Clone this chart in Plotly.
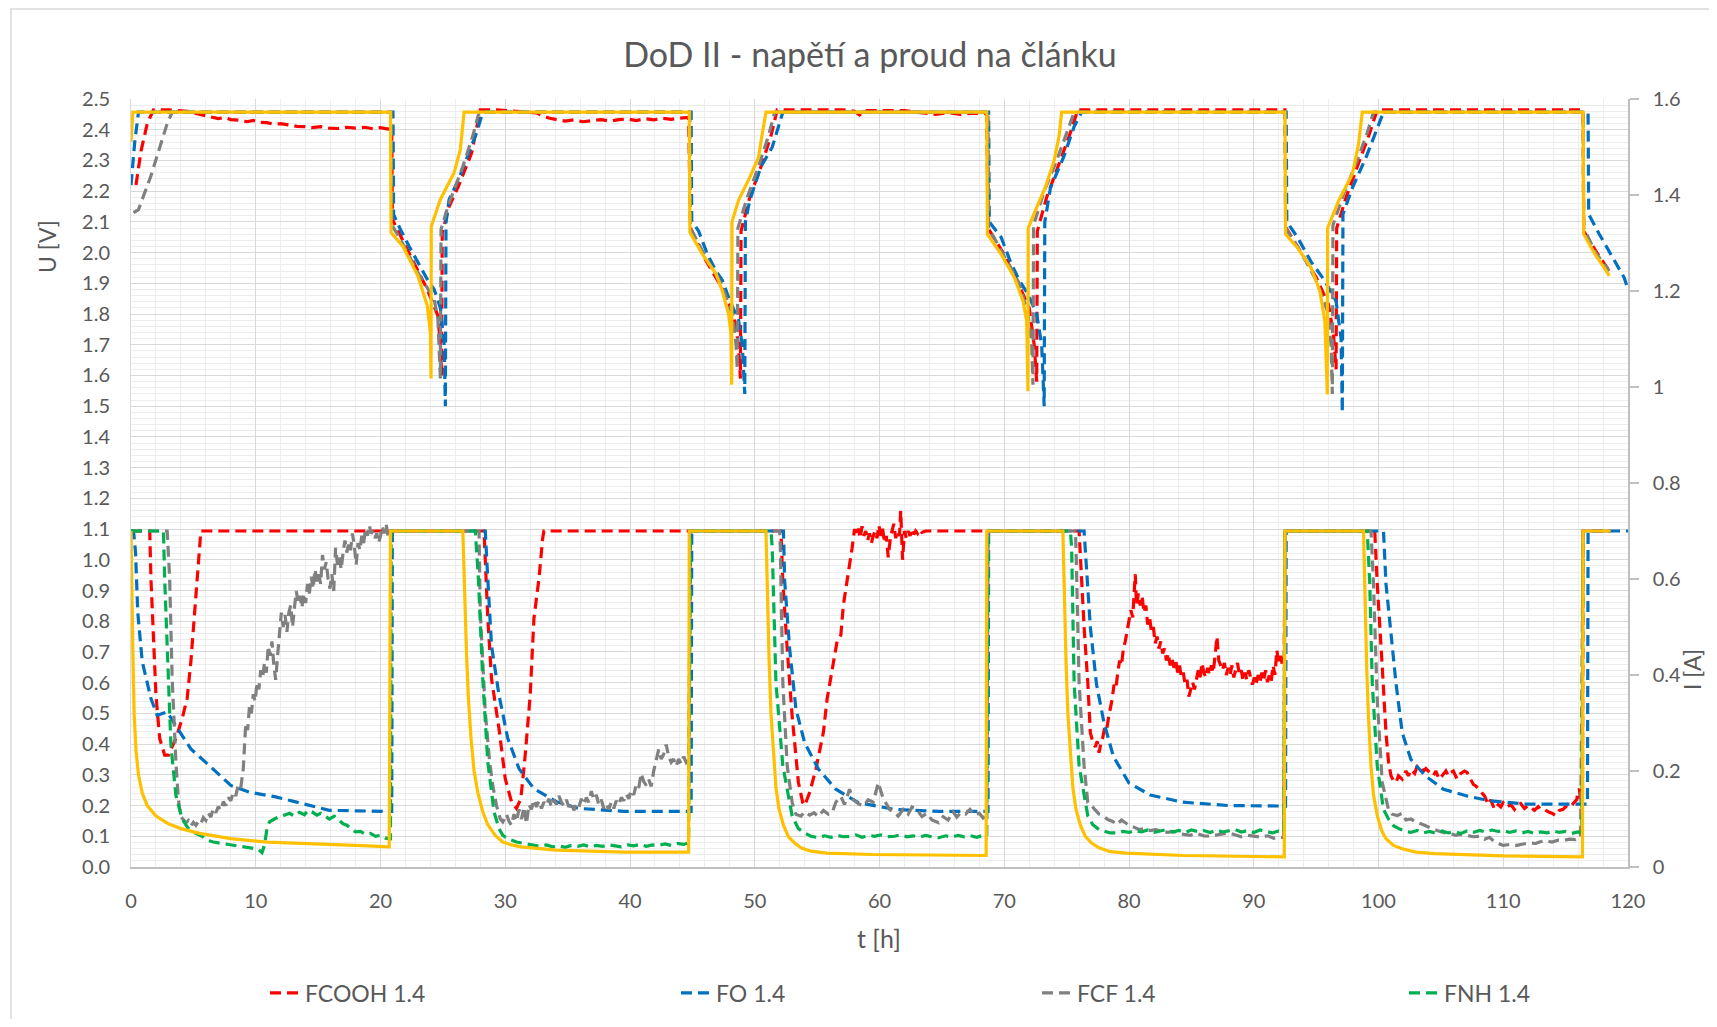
import plotly.graph_objects as go

# ---------------- data (t [h], value) ----------------
TIME_TICKS = list(range(0, 121, 10))
U_TICKS = [round(0.1 * i, 1) for i in range(26)]
I_TICKS = [0, 0.2, 0.4, 0.6, 0.8, 1.0, 1.2, 1.4, 1.6]

SERIES_NAMES = ["FCOOH 1.4", "FO 1.4", "FCF 1.4", "FNH 1.4"]

# reference cell (yellow, not in legend) – voltage [V]
YLW_U = [(0, 2.36), (0.15, 2.457), (20.8, 2.457), (20.85, 2.065), (21.8, 2.02), (23.0, 1.924), (23.75, 1.827),
         (24.0, 1.74), (24.05, 1.59), (24.07, 2.086), (24.8, 2.173), (25.9, 2.26), (26.4, 2.335), (26.7, 2.457),
         (44.75, 2.457), (44.8, 2.066), (45.8, 1.995), (46.9, 1.93), (47.4, 1.875), (47.9, 1.80), (48.1, 1.734),
         (48.15, 1.57), (48.17, 2.10), (48.7, 2.17), (49.6, 2.245), (50.3, 2.31), (50.6, 2.387), (50.9, 2.457),
         (68.6, 2.457), (68.65, 2.06), (69.75, 1.995), (70.8, 1.92), (71.5, 1.843), (71.8, 1.777), (71.9, 1.549),
         (71.92, 2.08), (72.6, 2.147), (73.3, 2.213), (74.0, 2.30), (74.4, 2.38), (74.6, 2.457),
         (92.5, 2.457), (92.55, 2.06), (93.5, 2.016), (94.6, 1.95), (95.3, 1.875), (95.7, 1.777), (95.9, 1.538),
         (95.92, 2.08), (96.8, 2.168), (97.9, 2.255), (98.4, 2.353), (98.7, 2.457),
         (116.4, 2.457), (116.45, 2.06), (117.35, 1.995), (118.1, 1.95), (118.5, 1.924)]
# reference cell – current [A]
YLW_I = [(0, 0.7), (0.05, 0.64), (0.15, 0.448), (0.25, 0.32), (0.4, 0.243), (0.6, 0.192), (0.9, 0.154),
         (1.3, 0.128), (2.0, 0.106), (3.0, 0.09), (4.0, 0.08), (5.5, 0.070), (8.0, 0.059), (10.9, 0.052),
         (14.5, 0.049), (18.0, 0.045), (20.7, 0.042), (20.8, 0.7),
         (26.6, 0.7), (26.75, 0.56), (26.9, 0.44), (27.05, 0.35), (27.25, 0.27), (27.5, 0.2), (27.8, 0.155),
         (28.2, 0.115), (28.6, 0.088), (29.2, 0.066), (29.8, 0.052), (30.5, 0.046), (31.25, 0.042), (34.1, 0.035),
         (39.5, 0.031), (44.7, 0.031), (44.75, 0.7),
         (50.9, 0.7), (51.0, 0.56), (51.15, 0.43), (51.3, 0.32), (51.5, 0.23), (51.7, 0.165), (51.95, 0.12),
         (52.3, 0.087), (52.7, 0.063), (53.2, 0.05), (53.7, 0.04), (54.5, 0.033), (55.8, 0.029), (59.4, 0.026),
         (68.55, 0.024), (68.6, 0.7),
         (74.7, 0.7), (74.8, 0.56), (74.95, 0.43), (75.1, 0.32), (75.3, 0.23), (75.5, 0.165), (75.75, 0.12),
         (76.1, 0.087), (76.5, 0.064), (77.0, 0.05), (77.6, 0.04), (78.5, 0.032), (79.75, 0.029), (84.4, 0.024),
         (92.45, 0.021), (92.5, 0.7),
         (98.8, 0.7), (98.9, 0.56), (99.05, 0.42), (99.2, 0.31), (99.4, 0.21), (99.6, 0.15), (99.9, 0.107),
         (100.25, 0.076), (100.6, 0.059), (101.2, 0.045), (101.9, 0.038), (103.0, 0.031), (104.5, 0.028),
         (110.0, 0.023), (116.35, 0.021), (116.4, 0.7), (118.6, 0.7)]

# FCOOH 1.4 (red)
FCOOH_U = [(0.4, 2.22), (0.8, 2.33), (1.3, 2.42), (1.8, 2.465), (3.0, 2.465), (4.5, 2.46), (5.4, 2.451),
           (6.0, 2.445), (6.5, 2.44), (7.0, 2.436), (7.5, 2.44), (8.0, 2.433), (8.75, 2.431), (9.3, 2.426),
           (9.8, 2.43), (10.4, 2.424), (10.9, 2.423), (11.5, 2.417), (12.0, 2.42), (12.7, 2.415), (13.3, 2.411),
           (13.9, 2.41), (14.5, 2.407), (15.2, 2.41), (15.9, 2.405), (16.6, 2.404), (17.3, 2.408), (18.0, 2.405),
           (18.75, 2.408), (19.4, 2.403), (20.0, 2.407), (20.6, 2.402), (20.9, 2.41),
           (20.95, 2.108), (22.3, 2.0), (23.75, 1.88), (24.6, 1.795), (24.8, 1.70), (24.9, 1.60),
           (24.95, 2.065), (25.5, 2.15), (26.25, 2.216), (27.3, 2.324), (28.0, 2.465), (29.3, 2.465),
           (31.0, 2.46), (32.5, 2.455), (33.0, 2.445), (33.5, 2.438), (34.2, 2.432), (34.8, 2.428), (35.5, 2.432),
           (36.2, 2.426), (37.0, 2.43), (37.7, 2.433), (38.4, 2.428), (39.1, 2.433), (39.8, 2.435), (40.5, 2.43),
           (41.2, 2.436), (41.9, 2.432), (42.6, 2.437), (43.3, 2.434), (44.0, 2.438), (44.7, 2.44),
           (44.85, 2.08), (46.0, 1.98), (47.3, 1.89), (48.3, 1.80), (48.7, 1.70), (48.85, 1.59),
           (48.9, 2.07), (49.6, 2.18), (50.5, 2.28), (51.3, 2.38), (51.8, 2.465), (57.0, 2.465), (58.0, 2.46),
           (58.4, 2.448), (58.8, 2.462), (62.0, 2.462), (63.5, 2.455), (64.5, 2.45), (65.5, 2.456), (66.5, 2.45),
           (67.5, 2.454), (68.6, 2.452),
           (68.7, 2.08), (69.9, 2.0), (71.0, 1.91), (72.0, 1.82), (72.4, 1.70), (72.6, 1.58),
           (72.65, 2.07), (73.4, 2.18), (74.4, 2.29), (75.3, 2.39), (75.9, 2.465), (92.5, 2.465),
           (92.6, 2.08), (93.8, 2.0), (95.0, 1.92), (96.0, 1.83), (96.4, 1.73), (96.6, 1.62),
           (96.65, 2.08), (97.4, 2.18), (98.4, 2.29), (99.3, 2.39), (99.9, 2.465), (116.4, 2.465),
           (116.45, 2.07), (117.5, 2.0), (118.5, 1.94)]
FCOOH_I = [(0, 0.7), (1.5, 0.7), (1.6, 0.60), (1.8, 0.461), (2.0, 0.358), (2.3, 0.268), (2.7, 0.233), (3.0, 0.233),
           (3.3, 0.25), (3.6, 0.268), (4.1, 0.309), (4.5, 0.351), (4.8, 0.428), (5.2, 0.566), (5.5, 0.685), (5.6, 0.7),
           (28.3, 0.7), (28.6, 0.518), (28.9, 0.392), (29.5, 0.288), (30.0, 0.184), (30.5, 0.136), (30.9, 0.122),
           (31.25, 0.142), (31.6, 0.233), (32.0, 0.358), (32.3, 0.518), (32.7, 0.60), (33.0, 0.685), (33.1, 0.7),
           (52.1, 0.7), (52.25, 0.595), (52.6, 0.454), (53.0, 0.314), (53.5, 0.176), (53.85, 0.134), (54.0, 0.128),
           (54.4, 0.155), (54.9, 0.204), (55.5, 0.280), (55.8, 0.350), (56.1, 0.40), (56.4, 0.440), (56.6, 0.47),
           (56.9, 0.483), (57.1, 0.545), (57.4, 0.594), (57.8, 0.664),
           (58.0, 0.704), (58.15, 0.69), (58.3, 0.705), (58.45, 0.685), (58.6, 0.71), (58.75, 0.69), (58.9, 0.70),
           (59.05, 0.68), (59.2, 0.695), (59.35, 0.675), (59.5, 0.69), (59.65, 0.70), (59.8, 0.685), (59.95, 0.712),
           (60.1, 0.69), (60.25, 0.705), (60.4, 0.675), (60.55, 0.69), (60.7, 0.645), (60.85, 0.68), (61.0, 0.70),
           (61.15, 0.715), (61.3, 0.685), (61.45, 0.70), (61.6, 0.69), (61.7, 0.742), (61.85, 0.64), (62.0, 0.70),
           (62.15, 0.685), (62.3, 0.70), (62.45, 0.69), (62.6, 0.705), (62.75, 0.693), (62.9, 0.70), (63.05, 0.695),
           (63.2, 0.703), (63.4, 0.697), (63.7, 0.70),
           (76.0, 0.7), (76.2, 0.595), (76.4, 0.5), (76.7, 0.383), (76.9, 0.28), (77.1, 0.26), (77.3, 0.25),
           (77.45, 0.262), (77.6, 0.238), (77.75, 0.258), (77.9, 0.27), (78.05, 0.29), (78.2, 0.285), (78.35, 0.31),
           (78.5, 0.33), (78.65, 0.35), (78.8, 0.38), (78.95, 0.372), (79.1, 0.405), (79.25, 0.43), (79.4, 0.42),
           (79.55, 0.455), (79.7, 0.47), (79.85, 0.49), (80.0, 0.515), (80.15, 0.535), (80.3, 0.52), (80.4, 0.576),
           (80.5, 0.61), (80.6, 0.545), (80.75, 0.57), (80.9, 0.545), (81.05, 0.565), (81.2, 0.53), (81.35, 0.545),
           (81.5, 0.505), (81.65, 0.52), (81.8, 0.49), (81.95, 0.5), (82.1, 0.466), (82.25, 0.48), (82.4, 0.455),
           (82.55, 0.47), (82.7, 0.445), (82.85, 0.455), (83.0, 0.43), (83.15, 0.445), (83.3, 0.42), (83.45, 0.435),
           (83.6, 0.415), (83.75, 0.43), (83.9, 0.405), (84.05, 0.42), (84.2, 0.395), (84.35, 0.405), (84.5, 0.38),
           (84.65, 0.39), (84.8, 0.355), (84.95, 0.372), (85.1, 0.385), (85.25, 0.37), (85.4, 0.395), (85.55, 0.41),
           (85.7, 0.395), (85.85, 0.425), (86.0, 0.405), (86.15, 0.395), (86.3, 0.415), (86.45, 0.40), (86.6, 0.42),
           (86.75, 0.405), (86.9, 0.44), (87.05, 0.48), (87.2, 0.43), (87.35, 0.42), (87.5, 0.41), (87.65, 0.425),
           (87.8, 0.40), (87.95, 0.415), (88.1, 0.40), (88.25, 0.42), (88.4, 0.395), (88.55, 0.41), (88.7, 0.425),
           (88.85, 0.40), (89.0, 0.41), (89.15, 0.388), (89.3, 0.405), (89.45, 0.39), (89.6, 0.41), (89.75, 0.395),
           (89.9, 0.38), (90.05, 0.395), (90.2, 0.382), (90.35, 0.40), (90.5, 0.385), (90.65, 0.405), (90.8, 0.39),
           (90.95, 0.41), (91.1, 0.385), (91.25, 0.40), (91.4, 0.388), (91.55, 0.42), (91.7, 0.40), (91.85, 0.452),
           (92.0, 0.425), (92.15, 0.44), (92.3, 0.42), (92.45, 0.438), (92.5, 0.7),
           (99.7, 0.7), (99.9, 0.59), (100.3, 0.417), (100.6, 0.28), (100.8, 0.22), (101.0, 0.19),
           (101.2, 0.18), (101.4, 0.176), (101.6, 0.19), (101.9, 0.183), (102.2, 0.2), (102.4, 0.19), (102.6, 0.203),
           (102.9, 0.195), (103.1, 0.21), (103.4, 0.21), (103.6, 0.2), (103.8, 0.205), (104.1, 0.197), (104.4, 0.19),
           (104.6, 0.2), (104.85, 0.183), (105.1, 0.19), (105.4, 0.2), (105.6, 0.19), (105.8, 0.197), (106.0, 0.2),
           (106.3, 0.183), (106.6, 0.195), (106.9, 0.2), (107.1, 0.197), (107.4, 0.18), (107.6, 0.172),
           (107.8, 0.169), (108.1, 0.16), (108.3, 0.155), (108.5, 0.148), (108.8, 0.13), (109.0, 0.14),
           (109.3, 0.12), (109.6, 0.13), (109.8, 0.125), (110.0, 0.134), (110.3, 0.125), (110.6, 0.13),
           (110.9, 0.12), (111.1, 0.128), (111.4, 0.132), (111.7, 0.122), (112.0, 0.128), (112.2, 0.124),
           (112.5, 0.118), (112.8, 0.126), (113.0, 0.12), (113.3, 0.12), (113.6, 0.115), (113.9, 0.112),
           (114.2, 0.107), (114.5, 0.118), (114.8, 0.12), (115.1, 0.128), (115.4, 0.125), (115.6, 0.132),
           (115.9, 0.141), (116.0, 0.16), (116.1, 0.162), (116.2, 0.14), (116.35, 0.15), (116.4, 0.7), (118.6, 0.7)]

# FO 1.4 (blue)
FO_U = [(0, 2.22), (0.3, 2.36), (0.6, 2.457), (21.0, 2.457), (21.05, 2.124), (21.6, 2.075), (22.3, 2.02),
        (23.0, 1.967), (23.75, 1.913), (24.3, 1.88), (24.8, 1.82), (25.1, 1.70), (25.2, 1.50), (25.25, 2.097),
        (25.5, 2.173), (26.25, 2.237), (27.0, 2.313), (27.7, 2.39), (28.2, 2.457), (44.9, 2.457),
        (44.95, 2.104), (45.5, 2.07), (46.2, 1.995), (46.9, 1.94), (47.4, 1.91), (48.0, 1.843), (48.7, 1.78),
        (49.0, 1.70), (49.2, 1.54), (49.25, 2.10), (49.6, 2.17), (50.5, 2.28), (51.4, 2.343), (52.1, 2.43),
        (52.25, 2.457), (68.75, 2.457), (68.8, 2.10), (69.75, 2.05), (70.5, 1.97), (71.2, 1.91), (71.9, 1.865),
        (72.6, 1.80), (73.0, 1.70), (73.2, 1.50), (73.25, 2.10), (73.7, 2.21), (74.75, 2.31), (75.6, 2.41),
        (76.2, 2.457), (92.6, 2.457), (92.65, 2.10), (93.5, 2.05), (94.6, 1.97), (95.7, 1.908), (96.6, 1.842),
        (97.0, 1.72), (97.1, 1.48), (97.15, 2.125), (97.9, 2.21), (99.0, 2.31), (99.7, 2.386), (100.4, 2.457),
        (116.8, 2.457), (116.85, 2.125), (117.7, 2.06), (118.8, 1.984), (119.7, 1.918), (120.0, 1.88)]
FO_I = [(0, 0.7), (0.2, 0.7), (0.36, 0.657), (0.54, 0.531), (0.9, 0.428), (1.6, 0.351), (2.1, 0.316), (2.9, 0.323),
        (3.75, 0.288), (4.8, 0.246), (6.25, 0.212), (8.0, 0.170), (9.5, 0.156), (11.6, 0.146), (13.75, 0.132),
        (15.9, 0.118), (20.2, 0.116), (20.9, 0.116), (20.95, 0.7), (28.4, 0.7), (28.6, 0.60), (28.9, 0.461),
        (29.5, 0.358), (30.2, 0.268), (31.1, 0.205), (32.3, 0.163), (34.1, 0.136), (35.9, 0.122), (39.5, 0.116),
        (44.9, 0.116), (44.95, 0.7), (52.3, 0.7), (52.4, 0.595), (52.8, 0.454), (53.3, 0.329), (54.0, 0.259),
        (55.1, 0.204), (56.5, 0.162), (58.3, 0.134), (61.2, 0.120), (64.75, 0.116), (68.7, 0.116), (68.75, 0.7),
        (76.4, 0.7), (76.6, 0.62), (76.9, 0.5), (77.4, 0.38), (78.0, 0.30), (78.75, 0.23), (80.0, 0.175),
        (81.7, 0.15), (84.3, 0.135), (88.0, 0.128), (92.55, 0.127), (92.6, 0.7), (100.4, 0.7), (100.6, 0.59),
        (101.0, 0.486), (101.4, 0.383), (101.9, 0.28), (102.6, 0.224), (103.75, 0.19), (105.2, 0.162),
        (107.1, 0.148), (108.9, 0.138), (111.8, 0.131), (116.75, 0.131), (116.8, 0.7), (120.0, 0.7)]

# FCF 1.4 (grey)
FCF_U = [(0.2, 2.13), (0.6, 2.14), (1.6, 2.25), (2.4, 2.36), (2.9, 2.42), (3.3, 2.457), (20.85, 2.457),
         (20.9, 2.09), (21.6, 2.043), (23.0, 1.935), (24.3, 1.849), (24.6, 1.784), (24.8, 1.59), (24.85, 2.075),
         (25.4, 2.15), (26.6, 2.28), (27.4, 2.38), (27.9, 2.457), (44.8, 2.457), (44.85, 2.08), (46.0, 1.99),
         (47.3, 1.90), (48.2, 1.80), (48.5, 1.70), (48.6, 1.62), (48.65, 2.08), (49.4, 2.18), (50.3, 2.28),
         (51.1, 2.38), (51.6, 2.457), (68.7, 2.457), (68.75, 2.08), (70.0, 1.99), (71.2, 1.90), (71.9, 1.80),
         (72.2, 1.70), (72.3, 1.57), (72.35, 2.09), (73.2, 2.20), (74.2, 2.30), (75.1, 2.40), (75.6, 2.457),
         (92.5, 2.457), (92.55, 2.08), (93.8, 2.0), (95.0, 1.91), (95.9, 1.81), (96.2, 1.70), (96.3, 1.54),
         (96.35, 2.09), (97.2, 2.19), (98.2, 2.29), (99.1, 2.39), (99.6, 2.457), (116.4, 2.457), (116.45, 2.08),
         (117.4, 2.0), (118.5, 1.94)]
FCF_I = [(0, 0.7), (2.9, 0.7), (3.1, 0.6), (3.3, 0.392), (3.6, 0.219), (3.8, 0.14),
         (4.0, 0.105), (4.2, 0.098), (4.4, 0.092), (4.6, 0.097), (4.8, 0.086), (5.0, 0.093), (5.2, 0.087),
         (5.4, 0.095), (5.6, 0.09), (5.8, 0.103), (6.0, 0.097), (6.2, 0.112), (6.4, 0.104), (6.6, 0.122),
         (6.8, 0.113), (7.0, 0.126), (7.2, 0.118), (7.4, 0.136), (7.6, 0.128), (7.8, 0.145), (8.0, 0.138),
         (8.2, 0.156), (8.4, 0.148), (8.6, 0.172), (8.8, 0.165), (9.0, 0.205), (9.1, 0.26), (9.2, 0.30),
         (9.35, 0.285), (9.5, 0.335), (9.65, 0.32), (9.8, 0.36), (9.95, 0.345), (10.1, 0.385), (10.25, 0.37),
         (10.4, 0.41), (10.55, 0.395), (10.7, 0.425), (10.85, 0.405), (11.0, 0.46), (11.15, 0.44), (11.3, 0.47),
         (11.45, 0.42), (11.6, 0.39), (11.75, 0.44), (11.9, 0.48), (12.05, 0.53), (12.2, 0.50), (12.35, 0.525),
         (12.5, 0.49), (12.65, 0.53), (12.8, 0.545), (12.95, 0.50), (13.1, 0.54), (13.25, 0.575), (13.4, 0.55),
         (13.55, 0.565), (13.7, 0.54), (13.85, 0.57), (14.0, 0.55), (14.15, 0.59), (14.3, 0.57), (14.45, 0.605),
         (14.6, 0.58), (14.75, 0.62), (14.9, 0.595), (15.05, 0.61), (15.2, 0.59), (15.35, 0.65), (15.5, 0.62),
         (15.65, 0.635), (15.8, 0.60), (15.95, 0.58), (16.1, 0.61), (16.25, 0.575), (16.4, 0.665), (16.55, 0.63),
         (16.7, 0.645), (16.85, 0.62), (17.0, 0.655), (17.15, 0.68), (17.3, 0.655), (17.45, 0.675), (17.6, 0.66),
         (17.75, 0.695), (17.9, 0.67), (18.05, 0.63), (18.2, 0.675), (18.35, 0.66), (18.5, 0.69), (18.65, 0.675),
         (18.8, 0.705), (18.95, 0.69), (19.1, 0.712), (19.25, 0.695), (19.4, 0.70), (19.55, 0.685), (19.7, 0.695),
         (19.85, 0.675), (20.0, 0.69), (20.15, 0.71), (20.3, 0.695), (20.45, 0.715), (20.6, 0.69), (20.75, 0.70),
         (20.85, 0.7),
         (27.9, 0.7), (28.0, 0.531), (28.4, 0.323), (28.75, 0.219), (29.0, 0.17), (29.3, 0.128), (29.6, 0.10),
         (29.8, 0.094), (30.1, 0.11), (30.3, 0.095), (30.5, 0.087), (30.7, 0.11), (30.9, 0.095), (31.1, 0.12),
         (31.3, 0.1), (31.5, 0.125), (31.7, 0.09), (31.9, 0.13), (32.1, 0.12), (32.3, 0.14), (32.5, 0.125),
         (32.7, 0.138), (32.9, 0.122), (33.1, 0.135), (33.3, 0.128), (33.5, 0.142), (33.7, 0.125), (33.9, 0.14),
         (34.1, 0.13), (34.3, 0.148), (34.5, 0.135), (34.7, 0.128), (34.9, 0.14), (35.1, 0.125), (35.3, 0.135),
         (35.5, 0.118), (35.7, 0.132), (35.9, 0.125), (36.1, 0.142), (36.3, 0.13), (36.5, 0.145), (36.7, 0.135),
         (36.9, 0.158), (37.1, 0.14), (37.3, 0.15), (37.5, 0.13), (37.7, 0.14), (37.9, 0.122), (38.1, 0.132),
         (38.3, 0.12), (38.5, 0.135), (38.7, 0.122), (38.9, 0.138), (39.1, 0.13), (39.3, 0.145), (39.5, 0.138),
         (39.7, 0.152), (39.9, 0.142), (40.1, 0.16), (40.3, 0.15), (40.5, 0.172), (40.7, 0.165), (40.9, 0.195),
         (41.1, 0.178), (41.3, 0.17), (41.5, 0.182), (41.7, 0.168), (41.9, 0.2), (42.1, 0.22), (42.3, 0.245),
         (42.5, 0.225), (42.7, 0.235), (42.9, 0.255), (43.1, 0.23), (43.3, 0.218), (43.5, 0.225), (43.7, 0.21),
         (43.9, 0.225), (44.1, 0.215), (44.3, 0.23), (44.5, 0.218), (44.7, 0.225), (44.85, 0.7),
         (52.0, 0.7), (52.05, 0.666), (52.25, 0.384), (52.6, 0.211), (53.0, 0.134), (53.3, 0.11), (53.7, 0.106),
         (54.0, 0.115), (54.4, 0.108), (54.75, 0.113), (55.1, 0.105), (55.5, 0.118), (55.9, 0.11), (56.2, 0.113),
         (56.5, 0.135), (56.9, 0.147), (57.2, 0.13), (57.6, 0.162), (57.9, 0.14), (58.3, 0.132), (58.7, 0.127),
         (59.1, 0.14), (59.5, 0.135), (59.9, 0.176), (60.2, 0.15), (60.5, 0.134), (60.8, 0.12), (61.1, 0.115),
         (61.5, 0.106), (61.9, 0.12), (62.3, 0.11), (62.6, 0.125), (63.0, 0.120), (63.4, 0.105), (63.8, 0.112),
         (64.2, 0.098), (64.75, 0.092), (65.1, 0.105), (65.5, 0.098), (65.9, 0.115), (66.2, 0.104), (66.5, 0.113),
         (66.9, 0.11), (67.25, 0.120), (67.6, 0.108), (68.0, 0.112), (68.3, 0.102), (68.6, 0.108), (68.7, 0.7),
         (75.7, 0.7), (75.75, 0.666), (76.0, 0.384), (76.4, 0.211), (76.7, 0.134), (77.0, 0.128), (77.25, 0.12),
         (77.6, 0.11), (78.0, 0.105), (78.3, 0.099), (78.7, 0.095), (79.0, 0.088), (79.4, 0.098), (79.75, 0.092),
         (80.1, 0.085), (80.4, 0.083), (80.8, 0.078), (81.2, 0.08), (81.7, 0.076), (82.1, 0.078), (82.6, 0.075),
         (83.1, 0.072), (83.6, 0.074), (84.0, 0.07), (84.4, 0.068), (84.9, 0.066), (85.4, 0.07), (86.0, 0.065),
         (86.5, 0.064), (87.0, 0.067), (87.5, 0.069), (88.0, 0.071), (88.5, 0.067), (89.0, 0.063), (89.5, 0.066),
         (90.1, 0.064), (90.6, 0.062), (91.1, 0.065), (91.6, 0.06), (92.0, 0.063), (92.4, 0.061), (92.5, 0.7),
         (99.4, 0.7), (99.6, 0.59), (99.9, 0.348), (100.3, 0.176), (100.8, 0.12), (101.1, 0.11), (101.5, 0.107),
         (101.9, 0.112), (102.2, 0.098), (102.6, 0.1), (103.0, 0.094), (103.4, 0.09), (103.75, 0.086),
         (104.2, 0.08), (104.7, 0.076), (105.2, 0.072), (105.7, 0.07), (106.2, 0.066), (106.6, 0.068),
         (107.1, 0.066), (107.6, 0.063), (108.1, 0.064), (108.5, 0.058), (108.9, 0.062), (109.3, 0.052),
         (109.7, 0.048), (110.0, 0.045), (110.5, 0.047), (111.1, 0.045), (111.6, 0.048), (112.1, 0.05),
         (112.6, 0.049), (112.9, 0.052), (113.4, 0.055), (113.9, 0.052), (114.4, 0.056), (114.8, 0.055),
         (115.3, 0.058), (115.8, 0.057), (116.2, 0.062), (116.4, 0.7), (118.6, 0.7)]

# FNH 1.4 (green) – current only
FNH_I = [(0, 0.7), (2.6, 0.7), (2.7, 0.6), (3.0, 0.39), (3.2, 0.253), (3.6, 0.149), (4.1, 0.1), (4.6, 0.08),
         (5.2, 0.07), (5.7, 0.064), (6.2, 0.055), (6.6, 0.052), (7.1, 0.05), (7.6, 0.047), (8.1, 0.045),
         (8.75, 0.042), (9.2, 0.04), (9.7, 0.039), (10.2, 0.037), (10.5, 0.03), (10.7, 0.045), (10.9, 0.08),
         (11.1, 0.094), (11.5, 0.1), (11.9, 0.105), (12.3, 0.108), (12.7, 0.112), (13.1, 0.106), (13.5, 0.114),
         (13.9, 0.109), (14.2, 0.118), (14.5, 0.115), (14.9, 0.108), (15.2, 0.112), (15.6, 0.104), (15.9, 0.100),
         (16.3, 0.106), (16.7, 0.096), (17.0, 0.09), (17.3, 0.087), (17.7, 0.08), (18.0, 0.073), (18.4, 0.074),
         (18.8, 0.068), (19.2, 0.07), (19.6, 0.064), (20.0, 0.066), (20.4, 0.06), (20.8, 0.059), (20.85, 0.7),
         (27.6, 0.7), (27.85, 0.6), (28.2, 0.39), (28.6, 0.219), (29.1, 0.115), (29.5, 0.08), (29.8, 0.066),
         (30.3, 0.058), (30.9, 0.052), (31.5, 0.049), (32.3, 0.045), (32.8, 0.043), (33.3, 0.046), (33.8, 0.042),
         (34.3, 0.044), (34.8, 0.041), (35.3, 0.045), (35.8, 0.043), (36.3, 0.046), (36.8, 0.042), (37.3, 0.045),
         (37.8, 0.043), (38.3, 0.046), (38.8, 0.044), (39.3, 0.042), (39.8, 0.046), (40.3, 0.044), (40.8, 0.047),
         (41.3, 0.043), (41.8, 0.046), (42.3, 0.045), (42.8, 0.048), (43.3, 0.045), (43.8, 0.049), (44.3, 0.047),
         (44.7, 0.05), (44.85, 0.7), (51.3, 0.7), (51.4, 0.666), (51.7, 0.384), (52.25, 0.211), (53.0, 0.106),
         (53.5, 0.08), (54.0, 0.071), (54.5, 0.064), (55.1, 0.061), (55.6, 0.065), (56.1, 0.062), (56.6, 0.066),
         (57.1, 0.063), (57.6, 0.064), (58.1, 0.067), (58.6, 0.062), (59.1, 0.066), (59.6, 0.064), (60.1, 0.067),
         (60.6, 0.063), (61.2, 0.064), (61.7, 0.067), (62.2, 0.063), (62.7, 0.065), (63.2, 0.062), (63.7, 0.066),
         (64.2, 0.063), (64.75, 0.061), (65.3, 0.065), (65.8, 0.062), (66.3, 0.066), (66.8, 0.063), (67.3, 0.065),
         (67.8, 0.062), (68.3, 0.066), (68.6, 0.064), (68.7, 0.7), (75.3, 0.7), (75.4, 0.666), (75.6, 0.384),
         (76.0, 0.211), (76.7, 0.106), (77.1, 0.088), (77.6, 0.078), (78.1, 0.074), (78.5, 0.071), (79.0, 0.071),
         (79.5, 0.074), (80.0, 0.072), (80.5, 0.076), (81.0, 0.073), (81.5, 0.077), (82.0, 0.072), (82.5, 0.075),
         (83.0, 0.078), (83.5, 0.073), (84.0, 0.076), (84.5, 0.072), (85.0, 0.077), (85.5, 0.074), (86.0, 0.076),
         (86.5, 0.072), (87.0, 0.077), (87.5, 0.073), (88.0, 0.075), (88.5, 0.078), (89.0, 0.073), (89.5, 0.076),
         (90.0, 0.072), (90.5, 0.077), (91.0, 0.074), (91.5, 0.071), (92.0, 0.075), (92.4, 0.072), (92.5, 0.7),
         (99.1, 0.7), (99.3, 0.59), (99.5, 0.383), (99.9, 0.21), (100.4, 0.12), (100.8, 0.1), (101.2, 0.086),
         (101.7, 0.079), (102.2, 0.074), (102.6, 0.072), (103.1, 0.076), (103.6, 0.071), (104.1, 0.074),
         (104.6, 0.07), (105.1, 0.075), (105.6, 0.071), (106.1, 0.073), (106.6, 0.07), (107.1, 0.075),
         (107.6, 0.072), (108.1, 0.076), (108.6, 0.073), (109.1, 0.077), (109.6, 0.074), (110.0, 0.076),
         (110.5, 0.072), (111.0, 0.075), (111.5, 0.071), (112.0, 0.074), (112.5, 0.07), (113.0, 0.073),
         (113.5, 0.071), (114.0, 0.075), (114.5, 0.072), (115.0, 0.074), (115.5, 0.07), (116.0, 0.073),
         (116.3, 0.072), (116.4, 0.7)]

# ---------------- figure ----------------
FONT = "Lato"
TXT = "#595959"
RED, BLUE, GREY, GREEN, YELLOW = "#FF0000", "#0070C0", "#808080", "#00B050", "#FFC000"
DASH = "11px,6px"
LW = 3.2

W, H = 1701, 1011
ML, MR, MT, MB = 123, 81, 91, 152
PW, PH = W - ML - MR, H - MT - MB


def xy(pairs):
    return [p[0] for p in pairs], [p[1] for p in pairs]


fig = go.Figure()

# voltage traces (left axis)
for pairs, col in [(FCOOH_U, RED), (FO_U, BLUE), (FCF_U, GREY)]:
    x, y = xy(pairs)
    fig.add_trace(go.Scatter(x=x, y=y, mode="lines", yaxis="y", showlegend=False,
                             line=dict(color=col, width=LW, dash=DASH), hoverinfo="skip"))
x, y = xy(YLW_U)
fig.add_trace(go.Scatter(x=x, y=y, mode="lines", yaxis="y", showlegend=False,
                         line=dict(color=YELLOW, width=LW), hoverinfo="skip"))

# current traces (right axis)
legends = ["legend", "legend2", "legend3", "legend4"]
for pairs, col, name, lg in [(FCOOH_I, RED, SERIES_NAMES[0], legends[0]),
                             (FO_I, BLUE, SERIES_NAMES[1], legends[1]),
                             (FCF_I, GREY, SERIES_NAMES[2], legends[2]),
                             (FNH_I, GREEN, SERIES_NAMES[3], legends[3])]:
    x, y = xy(pairs)
    fig.add_trace(go.Scatter(x=x, y=y, mode="lines", yaxis="y2", name=name, legend=lg,
                             line=dict(color=col, width=LW, dash=DASH)))
x, y = xy(YLW_I)
fig.add_trace(go.Scatter(x=x, y=y, mode="lines", yaxis="y2", showlegend=False,
                         line=dict(color=YELLOW, width=LW), hoverinfo="skip"))

tickfont = dict(family=FONT, size=20, color=TXT)


def leg(xc):
    return dict(xref="container", yref="container", x=xc, y=1 - 985 / H, xanchor="left", yanchor="middle",
                orientation="h", font=dict(family=FONT, size=23, color=TXT), bgcolor="rgba(0,0,0,0)")


fig.update_layout(
    width=W, height=H,
    margin=dict(l=ML, r=MR, t=MT, b=MB),
    paper_bgcolor="white", plot_bgcolor="white",
    title=dict(text="DoD II - napětí a proud na článku", xref="container", yref="container",
               x=862 / W, y=1 - 47 / H, xanchor="center", yanchor="middle",
               font=dict(family=FONT, size=34, color=TXT)),
    xaxis=dict(range=[0, 120], tickvals=TIME_TICKS, showgrid=True, gridcolor="#d9d9d9", gridwidth=1,
               minor=dict(dtick=2, showgrid=True, gridcolor="#eeeeee", gridwidth=1),
               showline=True, linecolor="#bfbfbf", linewidth=1.5, zeroline=False, ticks="",
               tickfont=tickfont, ticklabelstandoff=15),
    yaxis=dict(range=[0, 2.5], tickvals=U_TICKS, tickformat=".1f", showgrid=True, gridcolor="#d9d9d9",
               gridwidth=1, minor=dict(dtick=0.02, showgrid=True, gridcolor="#ededed", gridwidth=1),
               zeroline=False, showline=True, linecolor="#d9d9d9", ticks="", tickfont=tickfont,
               ticklabelstandoff=16),
    yaxis2=dict(range=[0, 1.6], tickvals=I_TICKS, overlaying="y", side="right", showgrid=False, zeroline=False,
                showline=True, linecolor="#bfbfbf", linewidth=1.5, ticks="outside", ticklen=9,
                tickcolor="#bfbfbf", tickwidth=1.5, tickfont=tickfont, ticklabelstandoff=10),
    legend=leg(257 / W), legend2=leg(668 / W), legend3=leg(1029 / W), legend4=leg(1396 / W),
    annotations=[
        dict(text="t [h]", xref="paper", yref="paper", x=(871 - ML) / PW, y=(MT + PH - 930) / PH,
             showarrow=False, font=dict(family=FONT, size=25, color=TXT), xanchor="center", yanchor="middle"),
        dict(text="U [V]", xref="paper", yref="paper", x=(39 - ML) / PW, y=(MT + PH - 239) / PH,
             showarrow=False, textangle=-90, font=dict(family=FONT, size=23, color=TXT),
             xanchor="center", yanchor="middle"),
        dict(text="I [A]", xref="paper", yref="paper", x=(1684 - ML) / PW, y=(MT + PH - 662) / PH,
             showarrow=False, textangle=-90, font=dict(family=FONT, size=23, color=TXT),
             xanchor="center", yanchor="middle"),
    ],
    shapes=[dict(type="rect", xref="paper", yref="paper", x0=(3 - ML) / PW, x1=(W + 20 - ML) / PW,
                 y0=(MT + PH - (H + 20)) / PH, y1=(MT + PH - 1) / PH, line=dict(color="#d9d9d9", width=1.5),
                 fillcolor="rgba(0,0,0,0)", layer="below")],
)

fig.write_html("out.html")
